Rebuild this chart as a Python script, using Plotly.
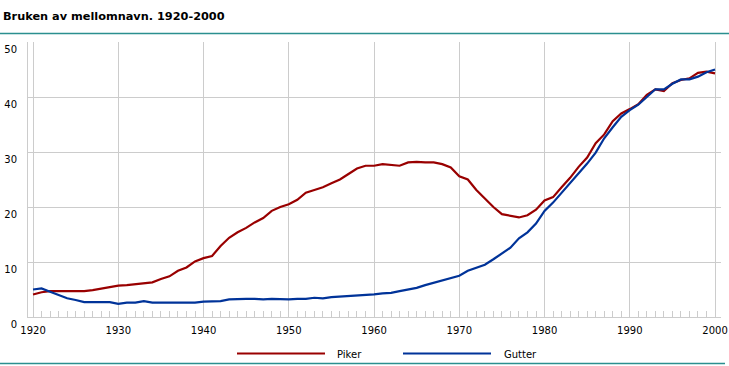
import plotly.graph_objects as go

years = list(range(1920, 2001))

piker = [4.1, 4.5, 4.7, 4.7, 4.7, 4.7, 4.7, 4.9, 5.2, 5.5,
         5.7, 5.8, 6.0, 6.2, 6.3, 6.9, 7.4, 8.4, 9.0, 10.1,
         10.7, 11.1, 12.9, 14.4, 15.4, 16.2, 17.2, 18.0, 19.3, 20.0,
         20.5, 21.3, 22.6, 23.1, 23.6, 24.3, 25.0, 26.0, 27.0, 27.5,
         27.5, 27.8, 27.7, 27.5, 28.1, 28.2, 28.1, 28.1, 27.8, 27.2,
         25.6, 25.0, 23.1, 21.5, 20.0, 18.7, 18.4, 18.1, 18.5, 19.5,
         21.2, 21.8, 23.6, 25.3, 27.3, 29.0, 31.6, 33.2, 35.6, 37.0,
         37.8, 38.7, 40.4, 41.4, 41.1, 42.5, 43.1, 43.4, 44.4, 44.6,
         44.3]

gutter = [5.0, 5.2, 4.6, 4.0, 3.4, 3.1, 2.7, 2.7, 2.7, 2.7,
          2.4, 2.6, 2.6, 2.9, 2.6, 2.6, 2.7, 2.7, 2.7, 2.6,
          2.8, 2.8, 2.9, 3.2, 3.3, 3.3, 3.3, 3.2, 3.3, 3.2,
          3.2, 3.3, 3.3, 3.5, 3.4, 3.6, 3.7, 3.7, 3.9, 4.0,
          4.1, 4.3, 4.4, 4.7, 5.0, 5.3, 5.8, 6.2, 6.6, 7.0,
          7.5, 8.4, 9.0, 9.5, 10.5, 11.6, 12.6, 14.3, 15.4, 17.0,
          19.3, 20.8, 22.6, 24.2, 26.0, 27.9, 29.9, 32.5, 34.5, 36.4,
          37.6, 38.6, 40.0, 41.4, 41.4, 42.4, 43.2, 43.2, 43.7, 44.5,
          45.0]

series_names = ["Piker", "Gutter"]
series_colors = ["#990000", "#003399"]
title_text = "Bruken av mellomnavn. 1920-2000"

W, H = 729, 366
L, R, T, B = 28, 8, 42, 49
pw, ph = W - L - R, H - T - B

def px_x(x):
    return (x - L) / pw

def px_y(y):
    return (H - B - y) / ph

fig = go.Figure()
for name, vals, col in zip(series_names, [piker, gutter], series_colors):
    fig.add_trace(go.Scatter(x=years, y=vals, mode="lines", name=name,
                             line=dict(color=col, width=2.2), showlegend=False))

grid = "#cccccc"
teal = "#2b8f8f"
shapes = [
    dict(type="line", xref="paper", yref="paper", x0=px_x(0), x1=px_x(729),
         y0=px_y(33.5), y1=px_y(33.5), line=dict(color=teal, width=1.5)),
    dict(type="line", xref="paper", yref="paper", x0=px_x(0), x1=px_x(725),
         y0=px_y(363.5), y1=px_y(363.5), line=dict(color=teal, width=1.5)),
]
annotations = []
legend_pos = [(237, 325, 335), (403, 491, 502)]
for (x0, x1, xt), name, col in zip(legend_pos, series_names, series_colors):
    shapes.append(dict(type="line", xref="paper", yref="paper", x0=px_x(x0), x1=px_x(x1),
                       y0=px_y(353.5), y1=px_y(353.5), line=dict(color=col, width=2)))
    annotations.append(dict(text=name, xref="paper", yref="paper", x=px_x(xt), y=px_y(354),
                            xanchor="left", yanchor="middle", showarrow=False,
                            font=dict(family="DejaVu Sans", size=10, color="#000")))

fig.update_layout(
    width=W, height=H,
    margin=dict(l=L, r=R, t=T, b=B, pad=0, autoexpand=False),
    paper_bgcolor="white", plot_bgcolor="white",
    font=dict(family="DejaVu Sans", size=10, color="#000"),
    title=dict(text=title_text, xref="container", yref="container",
               x=3 / W, xanchor="left", y=1 - 16 / H, yanchor="middle",
               font=dict(family="DejaVu Sans", size=11.3, color="#000", weight="bold")),
    shapes=shapes, annotations=annotations,
    xaxis=dict(range=[1919.41, 2000.70], tick0=1920, dtick=10,
               showgrid=True, gridcolor=grid, gridwidth=1,
               showline=True, linecolor=grid, linewidth=1,
               ticks="inside", ticklen=6, tickcolor=grid,
               minor=dict(dtick=1, tick0=1920, ticks="inside", ticklen=6, tickcolor=grid, showgrid=False),
               ticklabelstandoff=4, zeroline=False, fixedrange=True, automargin=False),
    yaxis=dict(range=[0, 50], tick0=0, dtick=10,
               showgrid=True, gridcolor=grid, gridwidth=1,
               showline=True, linecolor=grid, linewidth=1,
               ticks="", ticklabelposition="outside bottom",
               ticklabelstandoff=8, zeroline=False, fixedrange=True, automargin=False),
)

fig.write_html("out.html", config={"displayModeBar": False, "staticPlot": True},
               post_script="document.body.style.margin='0';document.body.style.padding='0';")
